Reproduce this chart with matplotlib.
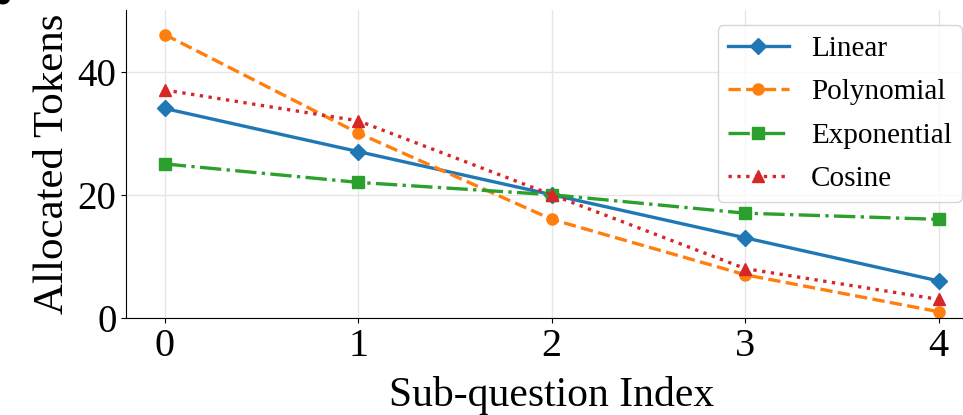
import matplotlib.pyplot as plt

plt.rcParams['font.family'] = ['Liberation Serif', 'DejaVu Serif']

# data
sub_idx = [0, 1, 2, 3, 4]
linear = [34, 27, 20, 13, 6]
polynomial = [46, 30, 16, 7, 1]
exponential = [25, 22, 20, 17, 16]
cosine = [37, 32, 20, 8, 3]

fig = plt.figure(figsize=(9.63, 4.15), dpi=100)
ax = fig.add_axes([0.131, 0.234, 0.884, 0.742])

ax.plot(sub_idx, linear, color='#1f77b4', linestyle='-', marker='D',
        markersize=8, linewidth=2.4, label='Linear')
ax.plot(sub_idx, polynomial, color='#ff7f0e', linestyle='--', marker='o',
        markersize=8, linewidth=2.4, label='Polynomial')
ax.plot(sub_idx, exponential, color='#2ca02c', linestyle='-.', marker='s',
        markersize=8, linewidth=2.4, label='Exponential')
ax.plot(sub_idx, cosine, color='#d62728', linestyle=':', marker='^',
        markersize=8, linewidth=2.4, label='Cosine')

ax.set_xlim(-0.2, 4.2)
ax.set_ylim(0, 50)
ax.set_xticks(sub_idx)
ax.set_yticks([0, 20, 40])
ax.tick_params(axis='y', labelsize=28)
ax.tick_params(axis='x', labelsize=29)
ax.set_xlabel('Sub-question Index', fontsize=30, labelpad=8)
ax.set_ylabel('Allocated Tokens', fontsize=31, labelpad=4)
ax.grid(True, color='#e6e6e6', linewidth=1)
ax.set_axisbelow(True)
ax.spines['top'].set_visible(False)
ax.spines['right'].set_visible(False)

ax.legend(loc='upper right', bbox_to_anchor=(0.999, 0.997), fontsize=21,
          handlelength=2.1, borderpad=0.35, labelspacing=0.58,
          handletextpad=0.75)

fig.text(0.0, 1.015, 'b', fontsize=26, fontweight='bold', va='center',
         ha='center', family='DejaVu Sans')

fig.savefig('out.png', dpi=100)
